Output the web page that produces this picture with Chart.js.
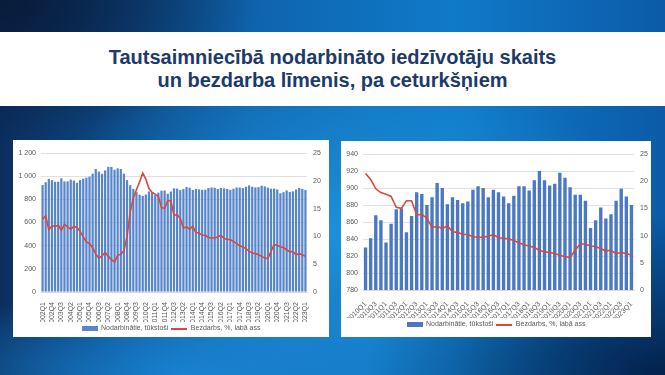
<!DOCTYPE html>
<html lang="lv">
<head>
<meta charset="utf-8">
<script src="https://cdn.jsdelivr.net/npm/chart.js@4.4.0/dist/chart.umd.min.js"></script>
<style>
  html, body { margin: 0; padding: 0; }
  body {
    width: 665px; height: 375px; overflow: hidden; position: relative;
    font-family: "Liberation Sans", Arial, sans-serif;
    background:
      radial-gradient(ellipse 260px 140px at 0% 0%, rgba(8, 26, 56, 0.95), rgba(8, 26, 56, 0) 100%),
      radial-gradient(ellipse 300px 160px at 100% 100%, rgba(3, 30, 70, 0.95), rgba(3, 30, 70, 0) 100%),
      radial-gradient(ellipse 300px 190px at 50% 62%, rgba(35, 155, 228, 0.75), rgba(35, 155, 228, 0) 100%),
      radial-gradient(ellipse 300px 90px at 28% 100%, rgba(24, 130, 210, 0.95), rgba(24, 130, 210, 0) 100%),
      linear-gradient(90deg, #0b2e5e 0%, #0f64ae 38%, #0f7ac9 68%, #0b5ba8 100%);
  }
  .band { position: absolute; left: 0; top: 32px; width: 665px; height: 74px; background: #fff; }
  .title {
    position: absolute; left: 0; top: 46px; width: 665px; text-align: center;
    color: #1d3a6a; font-weight: bold; font-size: 20px; line-height: 23px;
  }
  .panel { position: absolute; background: #fff; }
  #p1 { left: 13px; top: 140px; width: 316px; height: 197px; }
  #p2 { left: 341px; top: 141px; width: 310px; height: 196px; }
  canvas { display: block; }
</style>
</head>
<body>
<div class="band"></div>
<div class="title">Tautsaimniecībā nodarbināto iedzīvotāju skaits<br>un bezdarba līmenis, pa ceturkšņiem</div>
<div class="panel" id="p1"><canvas id="c1" width="316" height="197"></canvas></div>
<div class="panel" id="p2"><canvas id="c2" width="310" height="196"></canvas></div>

<script>
// ---- dati (nolasīti no attēla) ----
const FIRST_YEAR = 2002;
const LAST_YEAR = 2023;        // tikai Q1
const ZOOM_FROM = 32;          // 2010Q1 indekss

// nodarbinātie, tūkst., 2002Q1..2023Q1
const employed = [
  924, 948, 977, 966, 952, 952, 981, 955, 955, 970, 962, 943, 966, 978, 987, 996,
  1022, 1062, 1040, 1020, 1050, 1080, 1080, 1056, 1068, 1062, 1022, 966, 922, 890, 862, 840,
  830, 841, 868, 862, 836, 858, 875, 876, 848, 867, 895, 893, 880, 889, 906, 900,
  881, 889, 886, 882, 884, 898, 902, 900, 889, 898, 895, 890, 882, 891, 902, 902,
  897, 909, 920, 909, 903, 905, 918, 912, 901, 892, 892, 885, 853, 862, 877, 864,
  869, 885, 899, 890, 880
];

// bezdarbs, %, 2002Q1..2023Q1
const unemployment = [
  13.1, 13.7, 11.2, 11.9, 11.8, 12.0, 11.1, 12.2, 11.7, 11.3, 11.8, 11.6, 10.9, 9.9, 9.0, 8.7,
  8.0, 6.8, 6.1, 6.5, 7.1, 6.4, 5.8, 5.4, 6.6, 6.8, 7.4, 10.0, 14.4, 16.9, 18.4, 19.8,
  21.4, 20.3, 18.6, 17.9, 17.6, 17.2, 15.2, 15.0, 16.4, 16.4, 13.8, 13.9, 13.2, 11.5, 11.7, 11.3,
  11.8, 10.7, 10.6, 10.2, 10.2, 9.8, 9.7, 9.7, 9.9, 10.2, 9.6, 9.5, 9.4, 9.1, 8.7, 8.3,
  8.1, 7.8, 7.3, 7.0, 6.9, 6.7, 6.4, 6.1, 6.0, 7.3, 8.5, 8.4, 8.1, 8.0, 7.6, 7.2,
  7.3, 6.7, 6.9, 6.7, 6.4
];

const leftTicksFull = [0, 200, 400, 600, 800, 1000, 1200];
const leftTicksZoom = [780, 800, 820, 840, 860, 880, 900, 920, 940];
const rightTicks = [0, 5, 10, 15, 20, 25];

const SERIES_BAR = 'Nodarbinātie, tūkstoši';
const SERIES_LINE = 'Bezdarbs, %, labā ass';

function quarters(from, to) {
  const out = [];
  for (let y = from; y <= to; y++) {
    for (let q = 1; q <= 4; q++) {
      if (y === to && q > 1) break;
      out.push(y + 'Q' + q);
    }
  }
  return out;
}
const labelsFull = quarters(FIRST_YEAR, LAST_YEAR);
const labelsZoom = labelsFull.slice(ZOOM_FROM);

// ---- stils ----
const BAR_FULL = '#5886cd';
const BAR_ZOOM = '#4a78c3';
const RED = '#d8483f';
const GRID = '#d9d9d9';
const TXT = '#595959';

Chart.defaults.font.family = '"Liberation Sans", Arial, sans-serif';
Chart.defaults.font.size = 7;
Chart.defaults.color = TXT;

function swatch(w, h, color) {
  const c = document.createElement('canvas');
  c.width = w; c.height = h;
  const g = c.getContext('2d');
  g.fillStyle = color;
  g.fillRect(0, 0, w, h);
  return c;
}

function fmtSpace(v) {
  return String(v).replace(/\B(?=(\d{3})+(?!\d))/g, ' ');
}

function makeChart(id, cfg) {
  const ctx = document.getElementById(id).getContext('2d');
  return new Chart(ctx, {
    data: {
      labels: cfg.labels,
      datasets: [
        {
          type: 'line', label: SERIES_LINE, data: cfg.line, yAxisID: 'y1',
          borderColor: RED, borderWidth: 1.6, pointRadius: 0, tension: 0, order: 0,
        },
        {
          type: 'bar', label: SERIES_BAR, data: cfg.bars, yAxisID: 'y',
          backgroundColor: cfg.barColor, borderWidth: 0,
          categoryPercentage: 1, barPercentage: cfg.barPct, order: 1,
        },
      ],
    },
    options: {
      responsive: false,
      animation: false,
      // legenda pievieno 10px zem sevis, tāpēc apakšā negatīvs
      layout: { padding: { top: cfg.padTop, bottom: cfg.padBottom, left: 0, right: 0 } },
      plugins: {
        tooltip: { enabled: false },
        legend: {
          position: 'bottom',
          reverse: true,
          labels: {
            usePointStyle: true,
            pointStyleWidth: 16,
            padding: 3,
            font: { size: 7 },
            color: TXT,
            generateLabels(chart) {
              const items = Chart.defaults.plugins.legend.labels.generateLabels(chart);
              items.forEach(it => {
                it.pointStyle = it.datasetIndex === 1 ? swatch(16, 5, cfg.barColor) : swatch(16, 2, RED);
              });
              return items;
            },
          },
        },
      },
      scales: {
        x: {
          grid: { display: false },
          border: { display: true, color: GRID },
          ticks: {
            autoSkip: false, minRotation: cfg.rot, maxRotation: cfg.rot, padding: 2,
            callback(v, i) { return i % cfg.every === 0 ? this.getLabelForValue(v) : ''; },
          },
          afterFit(s) { s.height = cfg.xHeight; },
        },
        y: {
          position: 'left',
          min: cfg.yTicks[0], max: cfg.yTicks[cfg.yTicks.length - 1],
          afterBuildTicks(s) { s.ticks = cfg.yTicks.map(v => ({ value: v })); },
          grid: { color: GRID, lineWidth: 0.8, drawTicks: false },
          border: { display: false },
          ticks: { padding: 5, callback: v => fmtSpace(v) },
          afterFit(s) { s.width = cfg.yWidth; },
        },
        y1: {
          position: 'right',
          min: 0, max: 25,
          afterBuildTicks(s) { s.ticks = rightTicks.map(v => ({ value: v })); },
          grid: { display: false, drawTicks: false },
          border: { display: false },
          ticks: { padding: 6 },
          afterFit(s) { s.width = cfg.y1Width; },
        },
      },
    },
  });
}

function init() {
  if (typeof Chart === 'undefined') { setTimeout(init, 50); return; }
  makeChart('c1', {
    labels: labelsFull, bars: employed, line: unemployment,
    barColor: BAR_FULL, barPct: 0.72, rot: 90, every: 3,
    yTicks: leftTicksFull, yWidth: 28, y1Width: 22, xHeight: 30, padTop: 13, padBottom: -5,
  });
  makeChart('c2', {
    labels: labelsZoom, bars: employed.slice(ZOOM_FROM), line: unemployment.slice(ZOOM_FROM),
    barColor: BAR_ZOOM, barPct: 0.66, rot: 45, every: 2,
    yTicks: leftTicksZoom, yWidth: 22, y1Width: 17, xHeight: 28, padTop: 13, padBottom: -1,
  });
}
init();
</script>
</body>
</html>
